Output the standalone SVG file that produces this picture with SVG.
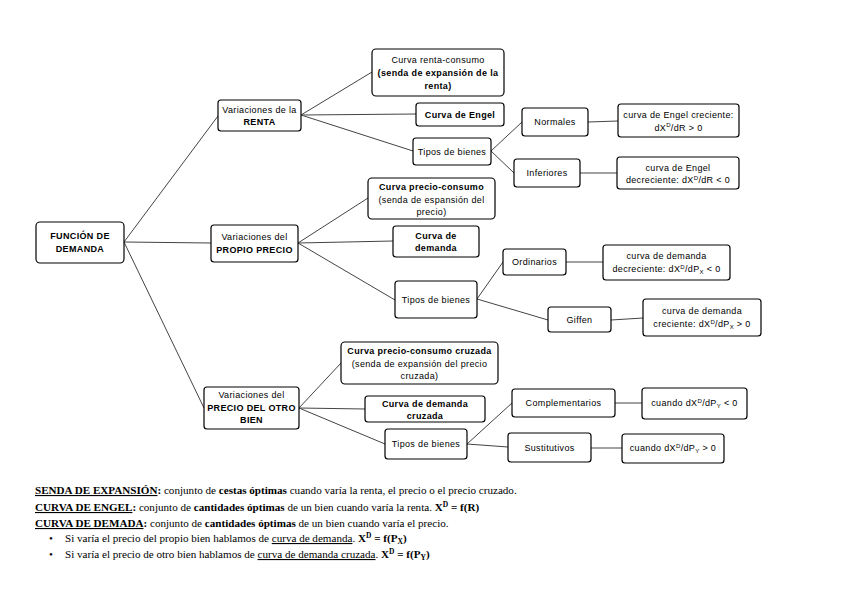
<svg xmlns="http://www.w3.org/2000/svg" width="848" height="599" viewBox="0 0 848 599">
<style>
.n rect{fill:#fff;stroke:#000;stroke-width:1.2}
.n text{font-family:"Liberation Sans",Arial,sans-serif;font-size:9px;letter-spacing:0.35px;text-anchor:middle;fill:#000}
.b{font-weight:bold}
#connectors line{stroke:#444;stroke-width:1}
.ft{font-family:"Liberation Serif","Times New Roman",serif;font-size:11.1px;fill:#000}
.sm{font-size:6px}
</style>
<rect width="848" height="599" fill="#fff"/>
<g id="connectors">
<line x1="124" y1="242" x2="218" y2="116"/>
<line x1="124" y1="242" x2="211" y2="243"/>
<line x1="124" y1="242" x2="204" y2="408"/>
<line x1="301" y1="115" x2="372" y2="72"/>
<line x1="301" y1="115" x2="416" y2="114"/>
<line x1="301" y1="115" x2="413" y2="151"/>
<line x1="491" y1="151" x2="522" y2="122"/>
<line x1="491" y1="151" x2="514" y2="173"/>
<line x1="588" y1="122" x2="618" y2="121"/>
<line x1="580" y1="173" x2="617" y2="173"/>
<line x1="298" y1="243" x2="368" y2="198"/>
<line x1="298" y1="243" x2="393" y2="241"/>
<line x1="298" y1="243" x2="395" y2="300"/>
<line x1="477" y1="299" x2="503" y2="262"/>
<line x1="477" y1="299" x2="548" y2="320"/>
<line x1="566" y1="262" x2="603" y2="262"/>
<line x1="611" y1="320" x2="643" y2="318"/>
<line x1="299" y1="408" x2="341" y2="363"/>
<line x1="299" y1="408" x2="365" y2="409"/>
<line x1="299" y1="408" x2="385" y2="444"/>
<line x1="467" y1="444" x2="512" y2="403"/>
<line x1="467" y1="444" x2="508" y2="447"/>
<line x1="615" y1="403" x2="642" y2="403"/>
<line x1="591" y1="448" x2="622" y2="448"/>
</g>

<g id="funcion" class="n"><rect x="36" y="222" width="88" height="41" rx="4"/>
<text x="80" y="239" class="b">FUNCIÓN DE</text><text x="80" y="252" class="b">DEMANDA</text></g>

<g id="var-renta" class="n"><rect x="218" y="100" width="83" height="31" rx="3"/>
<text x="259.5" y="112.5">Variaciones de la</text><text x="259.5" y="125" class="b">RENTA</text></g>

<g id="renta-consumo" class="n"><rect x="372" y="49" width="132" height="47" rx="4"/>
<text x="438" y="63">Curva renta-consumo</text><text x="438" y="76" class="b">(senda de expansión de la</text><text x="438" y="89" class="b">renta)</text></g>

<g id="engel" class="n"><rect x="416" y="103" width="88" height="23" rx="3"/>
<text x="460" y="117.5" class="b">Curva de Engel</text></g>

<g id="tipos1" class="n"><rect x="413" y="138" width="78" height="27" rx="3"/>
<text x="452" y="154.5">Tipos de bienes</text></g>

<g id="normales" class="n"><rect x="522" y="108" width="66" height="28" rx="3"/>
<text x="555" y="125">Normales</text></g>

<g id="inferiores" class="n"><rect x="514" y="159" width="66" height="28" rx="3"/>
<text x="547" y="176">Inferiores</text></g>

<g id="engel-crec" class="n"><rect x="618" y="104" width="121" height="33" rx="3"/>
<text x="678.5" y="118">curva de Engel creciente:</text><text x="678.5" y="130.5">dX<tspan class="sm" dy="-3.5">D</tspan><tspan dy="3.5">/dR &gt; 0</tspan></text></g>

<g id="engel-decr" class="n"><rect x="617" y="157" width="122" height="32" rx="3"/>
<text x="678" y="170.5">curva de Engel</text><text x="678" y="183">decreciente: dX<tspan class="sm" dy="-3.5">D</tspan><tspan dy="3.5">/dR &lt; 0</tspan></text></g>

<g id="var-propio" class="n"><rect x="211" y="225" width="87" height="37" rx="3"/>
<text x="254.5" y="240">Variaciones del</text><text x="254.5" y="253" class="b">PROPIO PRECIO</text></g>

<g id="precio-consumo" class="n"><rect x="368" y="178" width="127" height="41" rx="4"/>
<text x="431.5" y="190" class="b">Curva precio-consumo</text><text x="431.5" y="202.5">(senda de espansión del</text><text x="431.5" y="215">precio)</text></g>

<g id="demanda" class="n"><rect x="393" y="226" width="86" height="31" rx="3"/>
<text x="436" y="238.5" class="b">Curva de</text><text x="436" y="251" class="b">demanda</text></g>

<g id="tipos2" class="n"><rect x="395" y="281" width="82" height="37" rx="3"/>
<text x="436" y="302.5">Tipos de bienes</text></g>

<g id="ordinarios" class="n"><rect x="503" y="249" width="63" height="26" rx="3"/>
<text x="534.5" y="265">Ordinarios</text></g>

<g id="giffen" class="n"><rect x="548" y="307" width="63" height="25" rx="3"/>
<text x="579.5" y="322.5">Giffen</text></g>

<g id="dem-decr" class="n"><rect x="603" y="245" width="127" height="35" rx="3"/>
<text x="666.5" y="259">curva de demanda</text><text x="666.5" y="272">decreciente: dX<tspan class="sm" dy="-3.5">D</tspan><tspan dy="3.5">/dP</tspan><tspan class="sm" dy="2">X</tspan><tspan dy="-2"> &lt; 0</tspan></text></g>

<g id="dem-crec" class="n"><rect x="643" y="299" width="118" height="37" rx="3"/>
<text x="702" y="314">curva de demanda</text><text x="702" y="327">creciente: dX<tspan class="sm" dy="-3.5">D</tspan><tspan dy="3.5">/dP</tspan><tspan class="sm" dy="2">X</tspan><tspan dy="-2"> &gt; 0</tspan></text></g>

<g id="var-otro" class="n"><rect x="204" y="387" width="95" height="42" rx="3"/>
<text x="251.5" y="398">Variaciones del</text><text x="251.5" y="410.5" class="b">PRECIO DEL OTRO</text><text x="251.5" y="423" class="b">BIEN</text></g>

<g id="cruzada" class="n"><rect x="341" y="342" width="157" height="42" rx="4"/>
<text x="419.5" y="354" class="b">Curva precio-consumo cruzada</text><text x="419.5" y="366.5">(senda de expansión del precio</text><text x="419.5" y="379">cruzada)</text></g>

<g id="dem-cruzada" class="n"><rect x="365" y="396" width="120" height="26" rx="3"/>
<text x="425" y="406.5" class="b">Curva de demanda</text><text x="425" y="418.5" class="b">cruzada</text></g>

<g id="tipos3" class="n"><rect x="385" y="429" width="82" height="30" rx="3"/>
<text x="426" y="447">Tipos de bienes</text></g>

<g id="complementarios" class="n"><rect x="512" y="389" width="103" height="28" rx="3"/>
<text x="563.5" y="406">Complementarios</text></g>

<g id="sustitutivos" class="n"><rect x="508" y="433" width="83" height="29" rx="3"/>
<text x="549.5" y="450.5">Sustitutivos</text></g>

<g id="cuando-neg" class="n"><rect x="642" y="388" width="105" height="31" rx="3"/>
<text x="694.5" y="406">cuando dX<tspan class="sm" dy="-3.5">D</tspan><tspan dy="3.5">/dP</tspan><tspan class="sm" dy="2">Y</tspan><tspan dy="-2"> &lt; 0</tspan></text></g>

<g id="cuando-pos" class="n"><rect x="622" y="434" width="102" height="29" rx="3"/>
<text x="673" y="451">cuando dX<tspan class="sm" dy="-3.5">D</tspan><tspan dy="3.5">/dP</tspan><tspan class="sm" dy="2">Y</tspan><tspan dy="-2"> &gt; 0</tspan></text></g>

<g id="notes">
<text class="ft" x="35" y="494"><tspan font-weight="bold" text-decoration="underline">SENDA DE EXPANSIÓN</tspan><tspan font-weight="bold">:</tspan> conjunto de <tspan font-weight="bold">cestas óptimas</tspan> cuando varía la renta, el precio o el precio cruzado.</text>
<text class="ft" x="35" y="511"><tspan font-weight="bold" text-decoration="underline">CURVA DE ENGEL</tspan><tspan font-weight="bold">:</tspan> conjunto de <tspan font-weight="bold">cantidades óptimas</tspan> de un bien cuando varía la renta. <tspan font-weight="bold">X</tspan><tspan font-weight="bold" font-size="7.5" dy="-4">D</tspan><tspan font-weight="bold" dy="4"> = f(R)</tspan></text>
<text class="ft" x="35" y="527"><tspan font-weight="bold" text-decoration="underline">CURVA DE DEMADA</tspan><tspan font-weight="bold">:</tspan> conjunto de <tspan font-weight="bold">cantidades óptimas</tspan> de un bien cuando varía el precio.</text>
<text class="ft" x="49" y="542">•</text>
<text class="ft" x="65" y="542">Si varía el precio del propio bien hablamos de <tspan text-decoration="underline">curva de demanda</tspan>. <tspan font-weight="bold">X</tspan><tspan font-weight="bold" font-size="7.5" dy="-4">D</tspan><tspan font-weight="bold" dy="4"> = f(P</tspan><tspan font-weight="bold" font-size="7.5" dy="1.5">X</tspan><tspan font-weight="bold" dy="-1.5">)</tspan></text>
<text class="ft" x="49" y="558">•</text>
<text class="ft" x="65" y="558">Si varía el precio de otro bien hablamos de <tspan text-decoration="underline">curva de demanda cruzada</tspan>. <tspan font-weight="bold">X</tspan><tspan font-weight="bold" font-size="7.5" dy="-4">D</tspan><tspan font-weight="bold" dy="4"> = f(P</tspan><tspan font-weight="bold" font-size="7.5" dy="1.5">Y</tspan><tspan font-weight="bold" dy="-1.5">)</tspan></text>
</g>
</svg>
